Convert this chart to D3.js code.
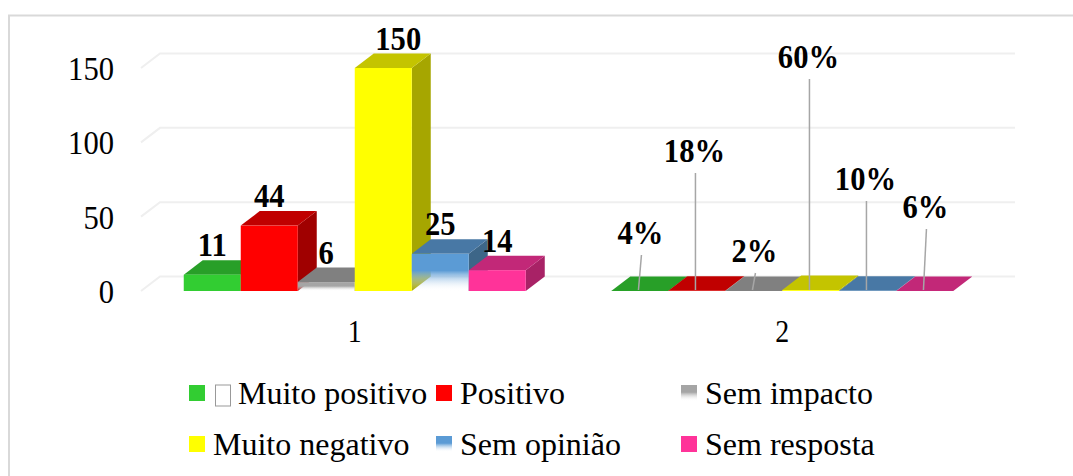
<!DOCTYPE html>
<html lang="en">
<head>
<meta charset="UTF-8">
<title>chart</title>
<script src="https://cdn.jsdelivr.net/npm/d3@7"></script>
<style>
    html, body { margin: 0; padding: 0; background: #fff; }
    svg { display: block; }
    text { font-family: "Liberation Serif", serif; fill: #000; }
</style>
</head>
<body>
<div id="root"></div>
<script>
var categories = ['Muito positivo', 'Positivo', 'Sem impacto', 'Muito negativo', 'Sem opinião', 'Sem resposta']
var groups = ['1', '2']
var counts = [11, 44, 6, 150, 25, 14]
var shares = [0.04, 0.18, 0.02, 0.60, 0.10, 0.06]
var yTicks = [0, 50, 100, 150]

var width = 1073
var height = 476

// 3d depth of the bars
var depthX = 19
var depthY = 14.5

// the numbers in the picture are tall and narrow
var numberSize = 34
var numberSquash = 0.9

// hand placed labels of the percent group, px above the floor
var shareLift = [35, 117, 17, 211, 89, 61]
var shareLean = [3, 0, 3, 0, 0, 3]

var colors = d3.scaleOrdinal().domain(categories)
    .range(['#32cd32', '#ff0000', '#a5a5a5', '#ffff00', '#5b9bd5', '#ff3399'])
var topColors = d3.scaleOrdinal().domain(categories)
    .range(['#289f28', '#c00000', '#808080', '#c4c400', '#4878a5', '#c22878'])
var sideColors = d3.scaleOrdinal().domain(categories)
    .range(['#217f21', '#a00000', '#6a6a6a', '#a6a600', '#3d6688', '#a82266'])
var fadeOut = ['Sem impacto', 'Sem opinião']

var x0 = d3.scaleBand().domain(groups).range([141, 996]).paddingInner(0.2).paddingOuter(0.1)
var x1 = d3.scaleBand().domain(categories).range([0, x0.bandwidth()])
var y = d3.scaleLinear().domain([0, 150]).range([291, 68])

var svg = d3.select('#root').append('svg')
    .attr('width', width)
    .attr('height', height)

var defs = svg.append('defs')
fadeOut.forEach(function(c, i) {
    var g = defs.append('linearGradient')
        .attr('id', 'fade' + i)
        .attr('x1', 0).attr('y1', 0).attr('x2', 0).attr('y2', 1)
    g.append('stop').attr('offset', '0.45').attr('stop-color', colors(c))
    g.append('stop').attr('offset', '1').attr('stop-color', '#fff').attr('stop-opacity', 0)
})
function frontFill(c) {
    var i = fadeOut.indexOf(c)
    return i < 0 ? colors(c) : 'url(#fade' + i + ')'
}

// places a number label, squashed around its anchor
function placeNumber(sel, xf, yf) {
    return sel
        .attr('transform', function(d, i) {
            return 'translate(' + xf(d, i) + ',' + yf(d, i) + ') scale(' + numberSquash + ',1)'
        })
        .attr('font-size', numberSize)
}

// chart frame, only the top and left edges are inside the picture
svg.append('path')
    .attr('d', 'M9,' + height + 'V15.5H' + width)
    .attr('fill', 'none')
    .attr('stroke', '#d9d9d9')
    .attr('stroke-width', 2)

// gridlines, front edge then along the back wall
var grid = svg.append('g')
grid.selectAll('path').data(yTicks).enter().append('path')
    .attr('d', function(d) {
        return 'M141,' + y(d) + 'L' + (141 + depthX) + ',' + (y(d) - depthY) + 'H' + (996 + depthX)
    })
    .attr('fill', 'none')
    .attr('stroke', '#efefef')
    .attr('stroke-width', 2)

// y axis labels
svg.append('g').selectAll('text').data(yTicks).enter().append('text')
    .call(placeNumber, function() { return 114 }, function(d) { return y(d) + 12 })
    .attr('text-anchor', 'end')
    .text(function(d) { return d })

// x axis labels
svg.append('g').selectAll('text').data(groups).enter().append('text')
    .call(placeNumber, function(d) { return x0(d) + x0.bandwidth() / 2 }, function() { return 342 })
    .attr('text-anchor', 'middle')
    .attr('font-size', 31)
    .text(function(d) { return d })

function drawBars(group, values) {
    var bars = svg.append('g').selectAll('g').data(values).enter().append('g')
    function bx(i) { return x0(group) + x1(categories[i]) }
    var w = x1.bandwidth()
    bars.append('path')
        .attr('fill', function(d, i) { return sideColors(categories[i]) })
        .attr('d', function(d, i) {
            var r = bx(i) + w
            return 'M' + r + ',' + y(d) + 'l' + depthX + ',' + (-depthY) + 'V' + (y(0) - depthY) + 'L' + r + ',' + y(0) + 'Z'
        })
    bars.append('path')
        .attr('fill', function(d, i) { return topColors(categories[i]) })
        .attr('d', function(d, i) {
            return 'M' + bx(i) + ',' + y(d) + 'l' + depthX + ',' + (-depthY) + 'h' + w + 'l' + (-depthX) + ',' + depthY + 'Z'
        })
    bars.append('rect')
        .attr('fill', function(d, i) { return frontFill(categories[i]) })
        .attr('x', function(d, i) { return bx(i) })
        .attr('y', function(d) { return y(d) })
        .attr('width', w)
        .attr('height', function(d) { return y(0) - y(d) })
}

drawBars('1', counts)
drawBars('2', shares)

// value labels of the count group, the tall one was nudged right
svg.append('g').selectAll('text').data(counts).enter().append('text')
    .call(placeNumber, function(d, i) {
        return x0('1') + x1(categories[i]) + x1.bandwidth() / 2 + (d === 150 ? 15 : 0)
    }, function(d) { return y(d) - depthY - 4 })
    .attr('text-anchor', 'middle')
    .attr('font-weight', 'bold')
    .text(function(d) { return d })

// leader lines and labels of the percent group
var shareCenter = function(i) { return x0('2') + x1(categories[i]) + x1.bandwidth() / 2 - 1.3 }
svg.append('g').selectAll('line').data(shares).enter().append('line')
    .attr('x1', function(d, i) { return shareCenter(i) })
    .attr('y1', y(0) - 1)
    .attr('x2', function(d, i) { return shareCenter(i) + shareLean[i] })
    .attr('y2', function(d, i) { return y(0) - 1 - shareLift[i] })
    .attr('stroke', '#a6a6a6')
    .attr('stroke-width', 1.5)
svg.append('g').selectAll('text').data(shares).enter().append('text')
    .call(placeNumber, function(d, i) {
        return shareCenter(i) + shareLean[i] - 1
    }, function(d, i) { return y(0) - 1 - shareLift[i] - 11.5 })
    .attr('text-anchor', 'middle')
    .attr('font-weight', 'bold')
    .text(function(d) { return d3.format('.0%')(d) })

// legend, three columns on two rows
var legendCol = [189, 436, 681]
var legendRow = [404, 455]
var legend = svg.append('g').selectAll('g').data(categories).enter().append('g')
    .attr('transform', function(d, i) {
        return 'translate(' + legendCol[i % 3] + ',' + legendRow[Math.floor(i / 3)] + ')'
    })
legend.append('rect')
    .attr('y', -19)
    .attr('width', 16)
    .attr('height', 16)
    .attr('fill', function(d) { return frontFill(d) })
legend.append('text')
    .attr('x', function(d, i) { return i === 0 ? 49 : 24 })
    .attr('font-size', 32)
    .text(function(d) { return d })
// the little empty box in front of the first entry
svg.append('rect')
    .attr('x', 215.5).attr('y', 385)
    .attr('width', 15).attr('height', 21)
    .attr('fill', 'none')
    .attr('stroke', '#999')
    .attr('stroke-width', 1)
</script>
</body>
</html>
